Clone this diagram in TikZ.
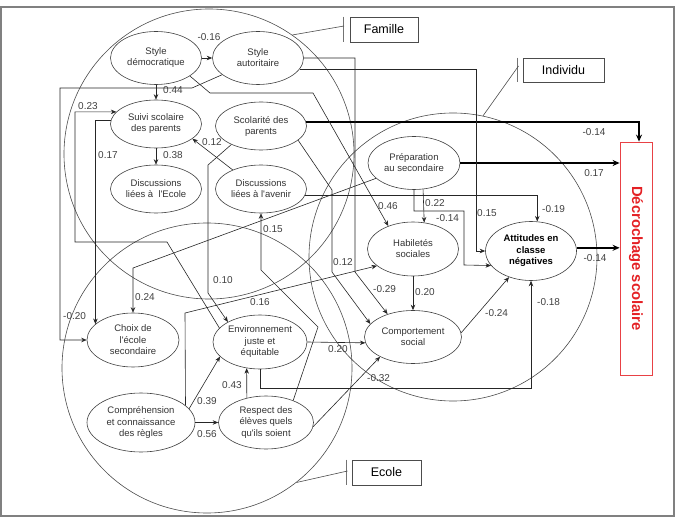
\documentclass[tikz,border=0pt]{standalone}
\usepackage{fontspec}
\setmainfont{Liberation Sans}
\usetikzlibrary{shapes.geometric,arrows.meta,calc}
\definecolor{decred}{RGB}{228,32,36}
\begin{document}
\begin{tikzpicture}[x=1pt,y=-1pt,
  every node/.style={font=\fontsize{9.5}{11}\selectfont},
  ell/.style={ellipse, draw=black!75, fill=white, line width=0.6pt, inner sep=0pt, align=center, text=black!80},
  conn/.style={draw=black!85, line width=0.6pt, -{Stealth[length=5.5pt,width=4.5pt]}},
  link/.style={draw=black!85, line width=0.6pt},
  boldarrow/.style={draw=black, line width=1.8pt, -{Stealth[length=7pt,width=6pt]}},
  coef/.style={font=\fontsize{10}{12}\selectfont, text=black!75, inner sep=0pt},
  zone/.style={circle, draw=black!70, line width=0.6pt, inner sep=0pt, minimum size=290pt},
  zonelab/.style={draw=black!70, line width=0.6pt, font=\fontsize{12.5}{14}\selectfont, inner sep=0pt},
  bar/.style={draw=black!55, line width=1pt}
]
\useasboundingbox (0,0) rectangle (679,518);
\draw[black!50, line width=1.5pt] (1,7) rectangle (674,516);

% zones
\node[zone] (Fam) at (209,154) {};
\node[zone, minimum size=288pt] (Ind) at (453,257) {};
\node[zone] (Eco) at (207,368) {};

% zone labels
\node[zonelab, minimum width=68pt, minimum height=25pt] (FamL) at (384,29.5) {Famille};
\node[zonelab, minimum width=81pt, minimum height=24pt] (IndL) at (563.5,70) {Individu};
\node[zonelab, minimum width=69pt, minimum height=25pt] (EcoL) at (386.5,472.5) {Ecole};
\draw[bar] ([xshift=-6pt]FamL.north west) -- ([xshift=-6pt]FamL.south west);
\draw[bar] ([xshift=-5pt]IndL.north west) -- ([xshift=-5pt]IndL.south west);
\draw[bar] ([xshift=-5pt]EcoL.north west) -- ([xshift=-5pt]EcoL.south west);
\coordinate (FamBar) at (344,26);
\coordinate (IndBar) at (518.5,66);
\coordinate (EcoBar) at (347.5,471);
\draw[link, black!70] (Fam.55) -- (FamBar);
\draw[link, black!70] (Ind.78.5) -- (IndBar);
\draw[link, black!70] (Eco.-52) -- (EcoBar);

% outcome box
\node[draw=decred!85, line width=0.8pt, minimum width=32pt, minimum height=233pt, inner sep=0pt] (DEC) at (636,258.5) {};
\node[rotate=-90, text=decred, font=\bfseries\fontsize{14.8}{16}\selectfont, inner sep=0pt] at (DEC.center) {Décrochage scolaire};

% ellipses
\node[ell, minimum width=91pt, minimum height=53pt] (SD) at (156,58) {Style\\démocratique};
\node[ell, minimum width=91pt, minimum height=53pt] (SA) at (258,58) {Style\\autoritaire};
\node[ell, minimum width=91pt, minimum height=48pt] (SU) at (156,124) {Suivi scolaire\\des parents};
\node[ell, minimum width=91pt, minimum height=48pt] (SC) at (261,126) {Scolarité des\\parents};
\node[ell, minimum width=91pt, minimum height=48pt] (DE) at (156,189) {Discussions\\liées à\ \ l\textquotesingle Ecole};
\node[ell, minimum width=91pt, minimum height=48pt] (DA) at (261,189) {Discussions\\liées à l\textquotesingle avenir};
\node[ell, minimum width=92pt, minimum height=53pt] (PR) at (414,163) {Préparation\\au secondaire};
\node[ell, minimum width=91pt, minimum height=54pt] (HA) at (413,249) {Habiletés\\sociales};
\node[ell, minimum width=91pt, minimum height=59pt, font=\bfseries\fontsize{9.5}{11.5}\selectfont, text=black] (AT) at (531,251) {Attitudes en\\classe\\négatives};
\node[ell, minimum width=97pt, minimum height=53pt] (CO) at (413,337) {Comportement\\social};
\node[ell, minimum width=92pt, minimum height=54pt, font=\fontsize{9.5}{11.5}\selectfont] (CH) at (133,340) {Choix de\\l\textquotesingle école\\secondaire};
\node[ell, minimum width=94pt, minimum height=54pt, font=\fontsize{9.5}{11.5}\selectfont] (EN) at (260,342) {Environnement\\juste et\\équitable};
\node[ell, minimum width=108pt, minimum height=59pt, font=\fontsize{9.5}{11.5}\selectfont] (CP) at (141,422.5) {Compréhension\\et connaissance\\des règles};
\node[ell, minimum width=95pt, minimum height=53pt, font=\fontsize{9.5}{11.5}\selectfont] (RE) at (266,422.5) {Respect des\\élèves quels\\qu\textquotesingle ils soient};

% connectors
\draw[conn] (SD) -- (SA);
\node[coef] at (209,37) {-0.16};
\draw[conn] (SD) -- (SU);
\node[coef, anchor=west] at (163,90) {0.44};
\draw[conn] (SU) -- (DE);
\node[coef, anchor=west] at (163,155) {0.38};
\draw[conn] (DA.146) -- (SU.-22);
\node[coef, anchor=west] at (202,142) {0.12};
\draw[conn] (SA.205) -- (192,88) -- (60,88) |- (CH.west);
\node[coef, anchor=west] at (63,316) {-0.20};
\draw[conn] (SU.175) -| (CH.157);
\node[coef, anchor=west] at (98,155) {0.17};
\draw[conn] (EN.161) -- (167,242) -- (75,242) |- (SU.163);
\node[coef, anchor=west] at (78,106) {0.23};
\draw[conn] (PR.202) -- (133,268) -- (CH.north);
\node[coef, anchor=west] at (135,297) {0.24};

\draw[boldarrow] (PR.east) -- (PR.east -| DEC.west);
\node[coef] at (594,173) {0.17};
\draw[boldarrow] (SC.5) -| ([xshift=3pt]DEC.north);
\node[coef] at (594,132) {-0.14};
\draw[boldarrow] (AT.4) -- (AT.4 -| DEC.west);
\node[coef] at (595,258) {-0.14};

\draw[conn] (SA.-15) -| (476,251) -- (AT.west);
\node[coef, anchor=west] at (477,213) {0.15};
\draw[conn] (SA.east) -- (355,58) -- (355,272) -- (CO.138);
\node[coef, anchor=west] at (373,289) {-0.29};
\draw[conn] (SC.-21) -- (332,190) -- (332,272) -- (CO.163);
\node[coef, anchor=west] at (333,262) {0.12};
\draw[conn] (SC.212) -- (208,165) -- (208,293) -- (EN.148);
\node[coef, anchor=west] at (213,280) {0.10};
\draw[conn] (SD.-28) -- (210,93) -- (313,93) -- (HA.137);
\node[coef, anchor=west] at (378,206) {0.46};
\draw[conn] (PR.-71) -- (HA.67);
\node[coef, anchor=west] at (425,203) {0.22};
\draw[conn] (PR.south) -- (414,211) -| (464,265) -- (AT.200);
\node[coef, anchor=west] at (436,218) {-0.14};
\draw[conn] (DA.-8) -| (AT.78);
\node[coef, anchor=west] at (542,209) {-0.19};
\draw[conn] (HA) -- (CO);
\node[coef, anchor=west] at (415,292) {0.20};
\draw[conn] (CO.5) -- (AT.230);
\node[coef, anchor=west] at (485,313) {-0.24};
\draw[conn] (EN.east) -- (CO.187);
\node[coef, anchor=west] at (328,349) {0.20};
\draw[conn] (EN.south) -- ++(0,19) -| (AT.south);
\node[coef, anchor=west] at (537,302) {-0.18};
\draw[conn] (RE.-5) -- (CO.211);
\node[coef, anchor=west] at (367,378) {-0.32};
\draw[conn] (RE.39) -- (318,327) -- (261,270) -- (DA.south);
\node[coef, anchor=west] at (263,229) {0.15};
\draw[conn] (CP.21) -- (185,313) -- (HA.205);
\node[coef, anchor=west] at (250,302) {0.16};
\draw[conn] (CP.16) -- (EN.200);
\node[coef, anchor=west] at (197,401) {0.39};
\draw[conn] (CP) -- (RE);
\node[coef, anchor=west] at (197,434) {0.56};
\draw[conn] (RE.128) -- (EN.243);
\node[coef, anchor=west] at (222,385) {0.43};
\end{tikzpicture}
\end{document}
